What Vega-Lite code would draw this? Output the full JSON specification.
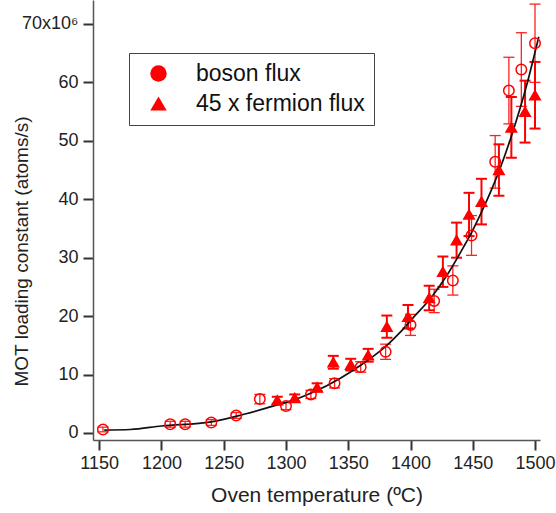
{
  "$schema": "https://vega.github.io/schema/vega-lite/v6.json",
  "width": 447,
  "height": 440,
  "autosize": {"type": "none"},
  "padding": {"left": 93, "top": 0, "right": 16, "bottom": 73},
  "background": "white",
  "config": {
    "view": {"stroke": null},
    "font": "Liberation Sans",
    "axis": {"grid": false, "domainColor": "#555", "domainWidth": 1.5, "tickColor": "#333", "tickWidth": 2, "tickSize": 10, "labelColor": "#222", "titleColor": "#222", "labelFont": "Liberation Sans", "titleFont": "Liberation Sans", "labelFontSize": 18, "titleFontSize": 19, "titleFontWeight": "normal"}
  },
  "datasets": {
    "pts": [
      {"s": "boson flux", "T": 1153, "v": 0.6, "lo": 0.2, "hi": 1.0},
      {"s": "boson flux", "T": 1207, "v": 1.5, "lo": 1.0, "hi": 2.0},
      {"s": "boson flux", "T": 1219, "v": 1.5, "lo": 1.0, "hi": 2.0},
      {"s": "boson flux", "T": 1240, "v": 1.8, "lo": 1.3, "hi": 2.3},
      {"s": "boson flux", "T": 1260, "v": 3.0, "lo": 2.5, "hi": 3.5},
      {"s": "boson flux", "T": 1279, "v": 5.8, "lo": 5.0, "hi": 6.6},
      {"s": "boson flux", "T": 1300, "v": 4.6, "lo": 4.0, "hi": 5.2},
      {"s": "boson flux", "T": 1320, "v": 6.6, "lo": 5.9, "hi": 7.3},
      {"s": "boson flux", "T": 1339, "v": 8.5, "lo": 7.7, "hi": 9.3},
      {"s": "boson flux", "T": 1360, "v": 11.3, "lo": 10.4, "hi": 12.2},
      {"s": "boson flux", "T": 1380, "v": 13.9, "lo": 12.6, "hi": 15.2},
      {"s": "boson flux", "T": 1400, "v": 18.5, "lo": 16.7, "hi": 20.3},
      {"s": "boson flux", "T": 1419, "v": 22.6, "lo": 20.6, "hi": 24.6},
      {"s": "boson flux", "T": 1434, "v": 26.1, "lo": 23.6, "hi": 28.6},
      {"s": "boson flux", "T": 1449, "v": 33.8, "lo": 30.4, "hi": 37.2},
      {"s": "boson flux", "T": 1468, "v": 46.4, "lo": 41.9, "hi": 50.9},
      {"s": "boson flux", "T": 1479, "v": 58.6, "lo": 52.9, "hi": 64.3},
      {"s": "boson flux", "T": 1489, "v": 62.2, "lo": 55.9, "hi": 68.5},
      {"s": "boson flux", "T": 1500, "v": 66.7, "lo": 60.0, "hi": 73.4},
      {"s": "45 x fermion flux", "T": 1293, "v": 5.6, "lo": 5.0, "hi": 6.2},
      {"s": "45 x fermion flux", "T": 1307, "v": 6.0, "lo": 5.4, "hi": 6.6},
      {"s": "45 x fermion flux", "T": 1325, "v": 7.8, "lo": 7.1, "hi": 8.5},
      {"s": "45 x fermion flux", "T": 1338, "v": 12.1, "lo": 11.0, "hi": 13.2},
      {"s": "45 x fermion flux", "T": 1352, "v": 11.7, "lo": 10.7, "hi": 12.7},
      {"s": "45 x fermion flux", "T": 1366, "v": 13.3, "lo": 12.2, "hi": 14.4},
      {"s": "45 x fermion flux", "T": 1381, "v": 18.2, "lo": 16.3, "hi": 20.1},
      {"s": "45 x fermion flux", "T": 1398, "v": 19.9, "lo": 17.9, "hi": 21.9},
      {"s": "45 x fermion flux", "T": 1415, "v": 23.1, "lo": 21.0, "hi": 25.2},
      {"s": "45 x fermion flux", "T": 1426, "v": 27.6, "lo": 25.0, "hi": 30.2},
      {"s": "45 x fermion flux", "T": 1437, "v": 33.0, "lo": 30.0, "hi": 36.0},
      {"s": "45 x fermion flux", "T": 1447, "v": 37.4, "lo": 33.7, "hi": 41.1},
      {"s": "45 x fermion flux", "T": 1457, "v": 39.6, "lo": 35.7, "hi": 43.5},
      {"s": "45 x fermion flux", "T": 1471, "v": 45.0, "lo": 40.6, "hi": 49.4},
      {"s": "45 x fermion flux", "T": 1481, "v": 52.3, "lo": 47.1, "hi": 57.5},
      {"s": "45 x fermion flux", "T": 1492, "v": 55.0, "lo": 49.7, "hi": 60.3},
      {"s": "45 x fermion flux", "T": 1500, "v": 57.8, "lo": 52.1, "hi": 63.5}
    ],
    "fit": [
      {"T": 1154, "v": 0.5},
      {"T": 1175, "v": 0.6},
      {"T": 1200, "v": 1.2},
      {"T": 1240, "v": 1.9},
      {"T": 1268, "v": 3.3},
      {"T": 1293, "v": 4.8},
      {"T": 1303, "v": 5.4},
      {"T": 1322, "v": 7.0},
      {"T": 1343, "v": 9.3},
      {"T": 1360, "v": 11.6},
      {"T": 1370, "v": 13.1},
      {"T": 1381, "v": 15.0},
      {"T": 1392, "v": 17.3},
      {"T": 1402, "v": 19.7},
      {"T": 1416, "v": 23.0},
      {"T": 1429, "v": 26.9},
      {"T": 1442, "v": 31.6},
      {"T": 1449, "v": 34.3},
      {"T": 1457, "v": 37.8},
      {"T": 1465, "v": 41.6},
      {"T": 1472, "v": 45.3},
      {"T": 1481, "v": 50.8},
      {"T": 1493, "v": 59.3},
      {"T": 1503, "v": 67.8}
    ]
  },
  "layer": [
    {
      "data": {"name": "pts"},
      "transform": [{"filter": "datum.s === 'boson flux'"}],
      "mark": {"type": "rule", "color": "#ff2020", "strokeWidth": 1.3},
      "encoding": {
        "x": {"field": "T", "type": "quantitative", "scale": {"domain": [1145, 1504], "nice": false, "zero": false},
          "axis": {"values": [1150, 1200, 1250, 1300, 1350, 1400, 1450, 1500], "format": "d", "title": "Oven temperature (ºC)", "titleFontSize": 21, "labelPadding": 4, "titlePadding": 12}},
        "y": {"field": "lo", "type": "quantitative", "scale": {"domain": [-1.2, 74.1], "nice": false, "zero": false},
          "axis": {"values": [0, 10, 20, 30, 40, 50, 60, 70], "title": "MOT loading constant (atoms/s)", "labelExpr": "datum.value == 70 ? '70x10⁶' : datum.label", "labelPadding": 5, "titleX": -62, "titleY": 251}},
        "y2": {"field": "hi"}
      }
    },
    {
      "data": {"name": "pts"},
      "transform": [{"filter": "datum.s === 'boson flux'"}],
      "mark": {"type": "rule", "color": "#ff2020", "strokeWidth": 1.3, "xOffset": -5.5, "x2Offset": 5.5},
      "encoding": {
        "x": {"field": "T", "type": "quantitative"},
        "x2": {"field": "T"},
        "y": {"field": "hi", "type": "quantitative"}
      }
    },
    {
      "data": {"name": "pts"},
      "transform": [{"filter": "datum.s === 'boson flux'"}],
      "mark": {"type": "rule", "color": "#ff2020", "strokeWidth": 1.3, "xOffset": -5.5, "x2Offset": 5.5},
      "encoding": {
        "x": {"field": "T", "type": "quantitative"},
        "x2": {"field": "T"},
        "y": {"field": "lo", "type": "quantitative"}
      }
    },
    {
      "data": {"name": "pts"},
      "transform": [{"filter": "datum.s !== 'boson flux'"}],
      "mark": {"type": "rule", "color": "#ff0000", "strokeWidth": 2},
      "encoding": {
        "x": {"field": "T", "type": "quantitative"},
        "y": {"field": "lo", "type": "quantitative"},
        "y2": {"field": "hi"}
      }
    },
    {
      "data": {"name": "pts"},
      "transform": [{"filter": "datum.s !== 'boson flux'"}],
      "mark": {"type": "rule", "color": "#ff0000", "strokeWidth": 2, "xOffset": -5.5, "x2Offset": 5.5},
      "encoding": {
        "x": {"field": "T", "type": "quantitative"},
        "x2": {"field": "T"},
        "y": {"field": "hi", "type": "quantitative"}
      }
    },
    {
      "data": {"name": "pts"},
      "transform": [{"filter": "datum.s !== 'boson flux'"}],
      "mark": {"type": "rule", "color": "#ff0000", "strokeWidth": 2, "xOffset": -5.5, "x2Offset": 5.5},
      "encoding": {
        "x": {"field": "T", "type": "quantitative"},
        "x2": {"field": "T"},
        "y": {"field": "lo", "type": "quantitative"}
      }
    },
    {
      "data": {"name": "fit"},
      "mark": {"type": "line", "color": "#111", "strokeWidth": 1.7, "interpolate": "monotone"},
      "encoding": {
        "x": {"field": "T", "type": "quantitative"},
        "y": {"field": "v", "type": "quantitative"}
      }
    },
    {
      "data": {"name": "pts"},
      "mark": {"type": "point", "size": 110, "filled": true, "fill": "#ff0000", "stroke": "#ff0000", "strokeWidth": 1.5, "opacity": 1, "strokeOpacity": 1},
      "encoding": {
        "x": {"field": "T", "type": "quantitative"},
        "y": {"field": "v", "type": "quantitative"},
        "shape": {"field": "s", "type": "nominal", "scale": {"domain": ["boson flux", "45 x fermion flux"], "range": ["circle", "triangle-up"]},
          "legend": {"title": null, "orient": "none", "legendX": 36, "legendY": 53, "strokeColor": "#444", "fillColor": "white", "padding": 9, "symbolOffset": 9, "symbolSize": 270, "symbolStrokeColor": "#ff0000", "symbolStrokeWidth": 1.5, "labelFontSize": 23, "labelLimit": 400, "labelColor": "#111", "labelOffset": 26, "rowPadding": 6,
            "encode": {"symbols": {"update": {"stroke": {"value": "#ff0000"}, "strokeWidth": {"value": 1.5}, "strokeOpacity": {"value": 1}, "fill": {"value": "#ff0000"}, "fillOpacity": {"signal": "datum.value === 'boson flux' ? 0 : 1"}, "opacity": {"value": 1}}}, "legend": {"update": {"strokeWidth": {"value": 1.5}}}}}},
        "fillOpacity": {"field": "s", "type": "nominal", "scale": {"domain": ["boson flux", "45 x fermion flux"], "range": [0, 1]},
          "legend": {"title": null, "orient": "none", "legendX": 36, "legendY": 53, "strokeColor": "#444", "fillColor": "white", "padding": 9, "symbolOffset": 9, "symbolSize": 270, "symbolStrokeColor": "#ff0000", "symbolStrokeWidth": 1.5, "labelFontSize": 23, "labelLimit": 400, "labelColor": "#111", "labelOffset": 26, "rowPadding": 6,
            "encode": {"symbols": {"update": {"stroke": {"value": "#ff0000"}, "strokeWidth": {"value": 1.5}, "strokeOpacity": {"value": 1}, "fill": {"value": "#ff0000"}, "fillOpacity": {"signal": "datum.value === 'boson flux' ? 0 : 1"}, "opacity": {"value": 1}}}, "legend": {"update": {"strokeWidth": {"value": 1.5}}}}}}
      }
    }
  ]
}
